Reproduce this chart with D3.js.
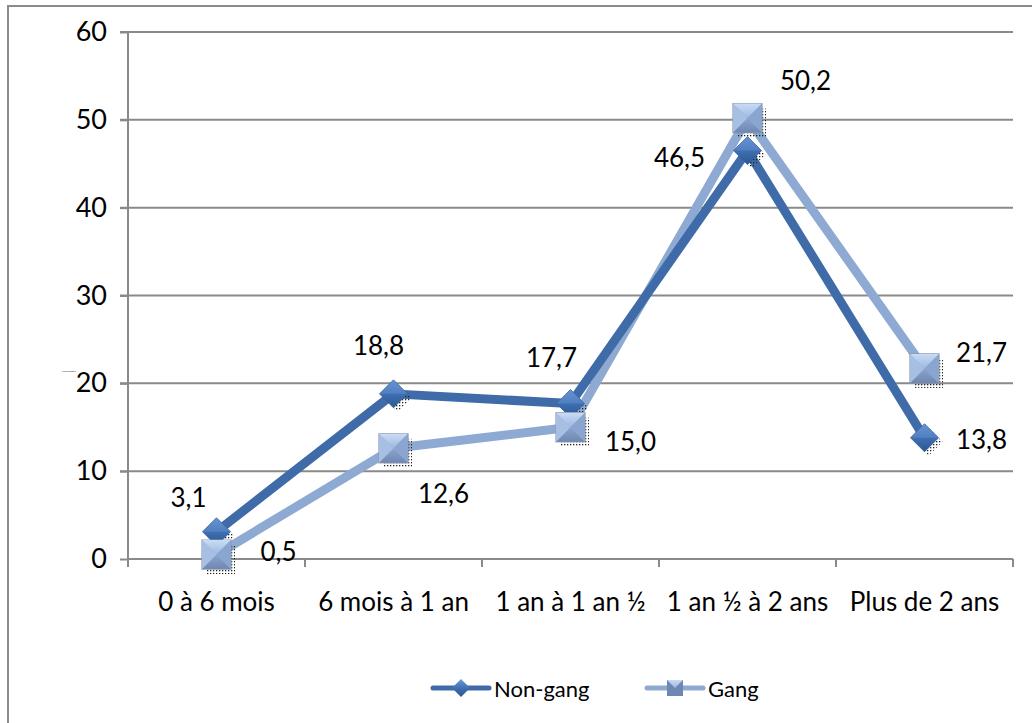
<!DOCTYPE html>
<html>
<head>
<meta charset="utf-8">
<script src="https://cdn.jsdelivr.net/npm/d3@7/dist/d3.min.js"></script>
<style>
  html, body { margin: 0; padding: 0; background: #fff; }
  svg { display: block; font-family: Lato, "Open Sans", sans-serif; }
</style>
</head>
<body>
<svg id="chart" width="1032" height="723"></svg>
<script>
// Durée par catégorie (%) — deux groupes
const categories = ["0 à 6 mois", "6 mois à 1 an", "1 an à 1 an ½", "1 an ½ à 2 ans", "Plus de 2 ans"];
const nonGang = [3.1, 18.8, 17.7, 46.5, 13.8];
const gang = [0.5, 12.6, 15.0, 50.2, 21.7];
const yTicks = [0, 10, 20, 30, 40, 50, 60];
const seriesNames = ["Non-gang", "Gang"];

// Label centre offsets relative to each point (layout only)
const nonGangLabelOffset = [[-28, -35], [-15, -49], [-19, -47], [-68, 6], [57, 1]];
const gangLabelOffset = [[62, -4], [50, 45], [60, 14], [58, -38], [57, -16]];

const svg = d3.select("#chart");
const fmt = v => v.toFixed(1).replace(".", ",");

const margin = { left: 128, right: 1013, top: 32, bottom: 559 };
const x = d3.scaleBand().domain(categories).range([margin.left, margin.right]).padding(0);
const y = d3.scaleLinear().domain([0, 60]).range([margin.bottom, margin.top]);
const cx = c => x(c) + x.bandwidth() / 2;

const defs = svg.append("defs");
// dotted shadow pattern
const pat = defs.append("pattern").attr("id", "dots").attr("width", 3).attr("height", 3)
  .attr("patternUnits", "userSpaceOnUse");
pat.append("rect").attr("width", 1.3).attr("height", 1.3).attr("fill", "#222");

const gDia = defs.append("linearGradient").attr("id", "gDia").attr("x1", 0).attr("y1", 0).attr("x2", 0).attr("y2", 1);
gDia.append("stop").attr("offset", "0%").attr("stop-color", "#6f9bd8");
gDia.append("stop").attr("offset", "50%").attr("stop-color", "#3f70b3");
gDia.append("stop").attr("offset", "100%").attr("stop-color", "#2c5690");

const gSqTop = defs.append("linearGradient").attr("id", "gSqTop").attr("x1", 0).attr("y1", 0).attr("x2", 0).attr("y2", 1);
gSqTop.append("stop").attr("offset", "0%").attr("stop-color", "#c9dcf5");
gSqTop.append("stop").attr("offset", "100%").attr("stop-color", "#9cb8e0");
const gSqBot = defs.append("linearGradient").attr("id", "gSqBot").attr("x1", 0).attr("y1", 0).attr("x2", 0).attr("y2", 1);
gSqBot.append("stop").attr("offset", "0%").attr("stop-color", "#8aa4cc");
gSqBot.append("stop").attr("offset", "100%").attr("stop-color", "#6f88b2");

// outer frame
svg.append("rect").attr("x", 8).attr("y", 6).attr("width", 1040).attr("height", 740)
  .attr("fill", "none").attr("stroke", "#8c8c8c").attr("stroke-width", 2);

// gridlines
svg.append("g").selectAll("line").data(yTicks.filter(d => d > 0)).join("line")
  .attr("x1", margin.left - 8).attr("x2", margin.right)
  .attr("y1", d => y(d)).attr("y2", d => y(d))
  .attr("stroke", "#8a8a8a").attr("stroke-width", 2);

// y axis
const yAxis = svg.append("g").attr("transform", `translate(${margin.left},0)`)
  .call(d3.axisLeft(y).tickValues(yTicks).tickSize(8).tickPadding(13).tickFormat(d => d));
yAxis.select(".domain").attr("stroke", "#8a8a8a").attr("stroke-width", 2).attr("d", `M0,${margin.top}V${margin.bottom}`);
yAxis.selectAll(".tick line").attr("stroke", "#8a8a8a").attr("stroke-width", 2);
yAxis.selectAll(".tick text").attr("font-size", 27).attr("fill", "#000").attr("font-family", "Lato, sans-serif");

// x axis
const xAxis = svg.append("g").attr("transform", `translate(0,${margin.bottom})`)
  .call(d3.axisBottom(x).tickSize(0).tickPadding(34));
xAxis.select(".domain").attr("stroke", "#8a8a8a").attr("stroke-width", 2).attr("d", `M${margin.left},0H${margin.right}`);
xAxis.selectAll(".tick text").attr("font-size", 26).attr("fill", "#000").attr("font-family", "Lato, sans-serif");
// category boundary ticks
const bounds = categories.map(c => x(c)).concat([margin.right]);
xAxis.append("g").selectAll("line").data(bounds).join("line")
  .attr("x1", d => d).attr("x2", d => d).attr("y1", 0).attr("y2", 8)
  .attr("stroke", "#8a8a8a").attr("stroke-width", 2);

// tiny axis title
svg.append("text").attr("x", 62).attr("y", 372).attr("font-size", 2.5).attr("fill", "#333").text("Pourcentage");

const line = d3.line().x((d, i) => cx(categories[i])).y(d => y(d));

function drawDiamond(g, px, py, s) {
  g.append("path").attr("d", `M${px + 4},${py - s + 4}L${px + s + 4},${py + 4}L${px + 4},${py + s + 4}L${px - s + 4},${py + 4}Z`)
    .attr("fill", "url(#dots)");
  g.append("path").attr("d", `M${px},${py - s}L${px + s},${py}L${px},${py + s}L${px - s},${py}Z`)
    .attr("fill", "url(#gDia)").attr("stroke", "#355f99").attr("stroke-width", 0.8);
  g.append("path").attr("d", `M${px},${py - s}L${px + s},${py}L${px - s},${py}Z`)
    .attr("fill", "#5e8ccc").attr("opacity", 0.55);
}
function drawSquare(g, px, py, s) {
  g.append("rect").attr("x", px - s + 4).attr("y", py - s + 5).attr("width", 2 * s).attr("height", 2 * s)
    .attr("fill", "url(#dots)");
  g.append("rect").attr("x", px - s).attr("y", py - s).attr("width", 2 * s).attr("height", 2 * s)
    .attr("fill", "#93aed6").attr("stroke", "#8d99ab").attr("stroke-width", 1.2);
  g.append("path").attr("d", `M${px - s},${py - s}L${px + s},${py - s}L${px},${py}Z`).attr("fill", "url(#gSqTop)");
  g.append("path").attr("d", `M${px - s},${py + s}L${px + s},${py + s}L${px},${py}Z`).attr("fill", "url(#gSqBot)");
  g.append("path").attr("d", `M${px - s},${py - s}L${px},${py}L${px - s},${py + s}Z`).attr("fill", "#a6bfe3");
  g.append("path").attr("d", `M${px + s},${py - s}L${px},${py}L${px + s},${py + s}Z`).attr("fill", "#8aa5cf");
}

// lines
svg.append("path").datum(gang).attr("d", line).attr("fill", "none")
  .attr("stroke", "#8eaad3").attr("stroke-width", 9).attr("stroke-linejoin", "round");
svg.append("path").datum(nonGang).attr("d", line).attr("fill", "none")
  .attr("stroke", "#3f6ca9").attr("stroke-width", 9).attr("stroke-linejoin", "round");

// markers
const mk = svg.append("g");
nonGang.forEach((v, i) => drawDiamond(mk, cx(categories[i]), y(v), 14));
gang.forEach((v, i) => drawSquare(mk, cx(categories[i]), y(v), 14.5));

// data labels
const lab = svg.append("g").attr("font-size", 26).attr("fill", "#000")
  .attr("text-anchor", "middle").attr("dominant-baseline", "central");
nonGang.forEach((v, i) => lab.append("text")
  .attr("x", cx(categories[i]) + nonGangLabelOffset[i][0])
  .attr("y", y(v) + nonGangLabelOffset[i][1]).text(fmt(v)));
gang.forEach((v, i) => lab.append("text")
  .attr("x", cx(categories[i]) + gangLabelOffset[i][0])
  .attr("y", y(v) + gangLabelOffset[i][1]).text(fmt(v)));

// legend
const leg = svg.append("g");
const legItems = [
  { name: seriesNames[0], x0: 433, color: "#3f6ca9", kind: "d" },
  { name: seriesNames[1], x0: 647, color: "#8eaad3", kind: "s" }
];
legItems.forEach(it => {
  leg.append("line").attr("x1", it.x0).attr("x2", it.x0 + 56).attr("y1", 688).attr("y2", 688)
    .attr("stroke", it.color).attr("stroke-width", 5).attr("stroke-linecap", "round");
  const mx = it.x0 + 28;
  if (it.kind === "d") {
    leg.append("path").attr("d", `M${mx},679L${mx + 9},688L${mx},697L${mx - 9},688Z`).attr("fill", "url(#gDia)");
  } else {
    const s = 8;
    leg.append("rect").attr("x", mx - s).attr("y", 688 - s).attr("width", 2 * s).attr("height", 2 * s).attr("fill", "#6f88b2");
    leg.append("path").attr("d", `M${mx - s},${688 - s}L${mx + s},${688 - s}L${mx},688Z`).attr("fill", "url(#gSqTop)");
  }
  leg.append("text").attr("x", it.x0 + 61).attr("y", 688).attr("dominant-baseline", "central")
    .attr("font-size", 22).attr("fill", "#000").text(it.name);
});
</script>
</body>
</html>
